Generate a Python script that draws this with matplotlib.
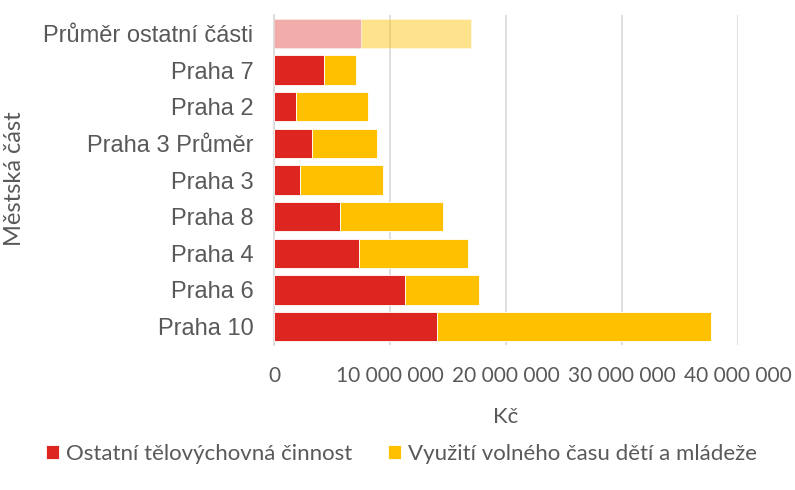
import matplotlib.pyplot as plt
from matplotlib.ticker import FuncFormatter

# data (Kč), top to bottom as in the chart
casti = ["Průměr ostatní části", "Praha 7", "Praha 2", "Praha 3 Průměr", "Praha 3",
         "Praha 8", "Praha 4", "Praha 6", "Praha 10"]
ostatni = [7470000, 4280000, 1900000, 3280000, 2240000, 5690000, 7330000, 11320000, 14050000]
volny_cas = [9510000, 2760000, 6170000, 5570000, 7130000, 8910000, 9370000, 6350000, 23620000]

red = "#DE2620"
yellow = "#FFC000"
grey = "#595959"

fig = plt.figure(figsize=(7.95, 4.9), dpi=100)
ax = fig.add_axes([0.345, 0.296, 0.583, 0.673])

y = list(range(len(casti)))[::-1]
b1 = ax.barh(y, ostatni, height=0.8, color=red, edgecolor="white", linewidth=0.6, zorder=3)
b2 = ax.barh(y, volny_cas, left=ostatni, height=0.8, color=yellow, edgecolor="white", linewidth=0.6, zorder=3)
# the average bar is drawn faded
b1[0].set_alpha(0.38)
b2[0].set_alpha(0.45)

ax.set_xlim(0, 40000000)
ax.set_ylim(-0.5, len(casti) - 0.5)
ax.set_xticks([0, 10000000, 20000000, 30000000, 40000000])
ax.xaxis.set_major_formatter(FuncFormatter(lambda v, p: f"{int(v):,}".replace(",", " ")))
ax.set_yticks(y)
ax.set_yticklabels(casti, fontsize=17, color=grey, fontfamily="Liberation Sans")
for t in ax.get_xticklabels():
    t.set_fontfamily("Lato")
    t.set_fontsize(15)
    t.set_color(grey)

ax.grid(axis="x", color="#D9D9D9", linewidth=1.2, zorder=0)
ax.tick_params(axis="y", length=0, pad=15)
ax.tick_params(axis="x", length=0, pad=15)
for s in ["top", "right", "bottom"]:
    ax.spines[s].set_visible(False)
ax.spines["left"].set_color("#D9D9D9")
ax.spines["left"].set_linewidth(1.2)

ax.set_xlabel("Kč", fontsize=16, color=grey, fontfamily="Lato", labelpad=15)
fig.text(0.018, 0.635, "Městská část", rotation=90, ha="center", va="center",
         fontsize=17, color=grey, fontfamily="Lato")

leg = fig.legend([b1[1], b2[1]], ["Ostatní tělovýchovná činnost", "Využití volného času dětí a mládeže"],
                 loc="center", bbox_to_anchor=(0.505, 0.073), ncol=2, frameon=False,
                 prop={"family": "Lato", "size": 16}, handlelength=0.6, handleheight=0.6,
                 handletextpad=0.3, columnspacing=1.6)
for t in leg.get_texts():
    t.set_color(grey)

fig.savefig("out.png", dpi=100)
